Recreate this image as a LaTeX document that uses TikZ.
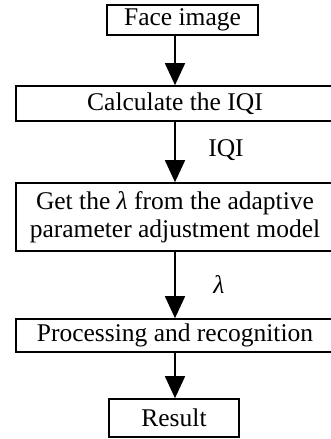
\documentclass[tikz,border=0pt]{standalone}
\usepackage{fontspec}
\setmainfont{Liberation Serif}
\usetikzlibrary{arrows.meta}

\begin{document}
\begin{tikzpicture}[x=1pt,y=1pt,yscale=-1,xscale=1,
  stepbox/.style={draw,line width=1.6pt,inner sep=0pt,align=center,font=\fontsize{25.5}{28}\selectfont},
  flow/.style={line width=1.6pt,-{Triangle[width=20pt,length=22pt]}},
  tag/.style={inner sep=0pt,font=\fontsize{25.5}{28}\selectfont}]
\useasboundingbox (0,0) rectangle (330,439);

% boxes
\node (face) [stepbox,minimum width=151,minimum height=30] at (182.5,20) {Face image};
\node (calc) [stepbox,minimum width=318,minimum height=35] at (175,103.5) {Calculate the IQI};
\node (getl) [stepbox,minimum width=318,minimum height=68] at (175,217) {Get the {\itshape λ} from the adaptive\\parameter adjustment model};
\node (proc) [stepbox,minimum width=318,minimum height=33] at (175,335.5) {Processing and recognition};
\node (res) [stepbox,minimum width=130,minimum height=38] at (174,418) {Result};

% labels
\node (iqi) [tag] at (226,150) {IQI};
\node (lam) [tag] at (219,285) {\itshape λ};

% arrows
\draw [flow] (calc.north |- face.south) -- (calc.north);
\draw [flow] (calc.south) -- (getl.north);
\draw [flow] (getl.south) -- (proc.north);
\draw [flow] (proc.south) -- (proc.south |- res.north);

\end{tikzpicture}
\end{document}
